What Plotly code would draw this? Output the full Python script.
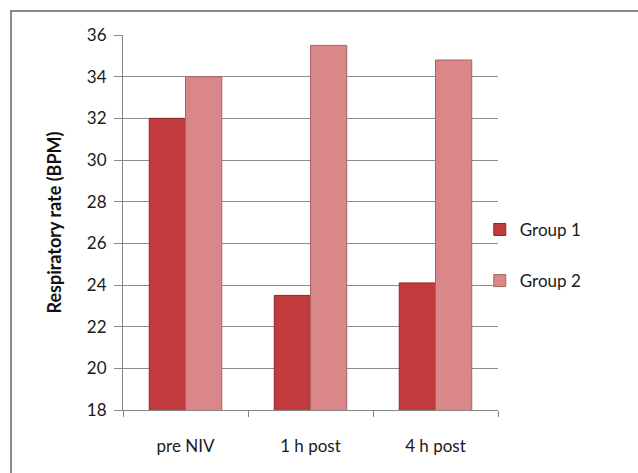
import plotly.graph_objects as go

# Respiratory rate by time point and group
categories = ["pre NIV", "1 h post", "4 h post"]
group1 = [32.0, 23.5, 24.1]
group2 = [34.0, 35.5, 34.8]
y_ticks = [18, 20, 22, 24, 26, 28, 30, 32, 34, 36]

FONT = "Lato, Calibri, Carlito, sans-serif"
W, H = 638, 473
L, R, T, B = 123, 140, 35, 63

fig = go.Figure()
fig.add_trace(go.Bar(
    x=categories, y=group1, name="Group 1", legendgroup="g1",
    marker=dict(color="#C13A3C", line=dict(color="#8E2627", width=1)),
))
fig.add_trace(go.Bar(
    x=categories, y=group2, name="Group 2", legendgroup="g2",
    marker=dict(color="#D98788", line=dict(color="#A86465", width=1)),
))

# outer chart frame (only the top-left corner lies inside the page)
pw, ph = W - L - R, H - T - B
fig.add_shape(
    type="rect", xref="paper", yref="paper",
    x0=(11 - L) / pw, x1=(W + 10 - L) / pw,
    y0=-(H + 10 - (H - B)) / ph, y1=(H - B - 11) / ph,
    line=dict(color="#8A8A8A", width=2), fillcolor="rgba(0,0,0,0)", layer="below",
)

fig.update_layout(
    width=W, height=H,
    margin=dict(l=L, r=R, t=T, b=B, autoexpand=False),
    paper_bgcolor="white", plot_bgcolor="white",
    barmode="group", bargap=0.42, bargroupgap=0,
    font=dict(family=FONT, size=17, color="#1A1A1A"),
    showlegend=True,
    legend=dict(
        xref="container", yref="container", x=0.752, y=0.46,
        xanchor="left", yanchor="middle",
        font=dict(family=FONT, size=17, color="#1A1A1A"),
        tracegroupgap=26, itemwidth=30, bgcolor="rgba(0,0,0,0)",
    ),
    xaxis=dict(
        showline=True, linecolor="#868686", linewidth=1,
        ticks="outside", tickson="boundaries", ticklen=6, tickcolor="#868686",
        ticklabelstandoff=21, showgrid=False,
        tickfont=dict(family=FONT, size=17, color="#1A1A1A"),
    ),
    yaxis=dict(
        range=[18, 36], tickvals=y_ticks,
        showline=True, linecolor="#868686", linewidth=1,
        showgrid=True, gridcolor="#8C8C8C", gridwidth=1,
        ticks="outside", ticklen=8, tickcolor="#868686",
        ticklabelstandoff=4, zeroline=False,
        tickfont=dict(family=FONT, size=17, color="#1A1A1A"),
        title=dict(text="<b>Respiratory rate (BPM)</b>", standoff=20,
                   font=dict(family=FONT, size=18, color="#111111")),
    ),
)

fig.write_html("out.html")
